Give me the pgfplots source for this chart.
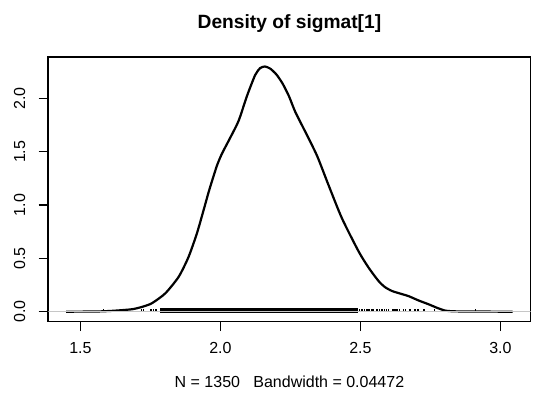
\documentclass[border=0pt]{standalone}
\usepackage{fontspec}
\setmainfont{Liberation Sans}
\usepackage{pgfplots}
\pgfplotsset{compat=1.18}
\begin{document}
\begin{tikzpicture}
\useasboundingbox (-48.3pt,-72.5pt) rectangle (486.7pt,321.5pt);
\clip (-48.3pt,-72.5pt) rectangle (486.7pt,321.5pt);
\begin{axis}[
  at={(0pt,0pt)}, anchor=south west,
  scale only axis, width=482.3pt, height=264.8pt,
  xmin=1.3852, xmax=3.1078, ymin=-0.092, ymax=2.392,
  axis line style={line width=1.7pt},
  xtick={1.5,2,2.5,3}, ytick={0,0.5,1,1.5,2},
  xtick pos=left, ytick pos=left,
  tick align=outside, major tick length=9.6pt,
  tick style={line width=1.2pt, black},
  /pgf/number format/fixed, /pgf/number format/fixed zerofill,
  /pgf/number format/precision=1, /pgf/number format/assume math mode=true,
  tick label style={font=\fontsize{16}{19}\selectfont},
  xticklabel style={yshift=-8pt},
  yticklabel style={xshift=-10pt, rotate=90, anchor=south},
  title={Density of sigmat[1]},
  title style={font=\bfseries\fontsize{19.2}{23}\selectfont, at={(axis description cs:0.5,1)}, anchor=center, yshift=27pt},
  xlabel={N = 1350\ \ \ Bandwidth = 0.04472},
  xlabel style={font=\fontsize{16}{19}\selectfont, at={(axis description cs:0.5,0)}, anchor=center, yshift=-60.2pt},
]
\addplot[black, line width=2.2pt, smooth, tension=0.4] coordinates {
(1.449,0) (1.50,0.0008) (1.55,0.0015) (1.583,0.004) (1.62,0.009) (1.684,0.023) (1.72,0.045) (1.755,0.079) (1.803,0.172) (1.851,0.328) (1.886,0.513) (1.916,0.735) (1.940,0.954) (1.960,1.141) (1.987,1.366) (2.005,1.480) (2.035,1.632) (2.065,1.791) (2.095,2.025) (2.124,2.220) (2.142,2.285) (2.159,2.300) (2.178,2.280) (2.200,2.225) (2.222,2.14) (2.245,2.02) (2.267,1.876) (2.303,1.688) (2.345,1.463) (2.386,1.188) (2.434,0.876) (2.494,0.563) (2.530,0.41) (2.565,0.287) (2.588,0.23) (2.613,0.194) (2.642,0.17) (2.672,0.146) (2.708,0.105) (2.744,0.069) (2.775,0.035) (2.803,0.01) (2.83,0.004) (2.87,0.002) (2.91,0.002) (2.96,0.001) (3.0,0.0003) (3.044,0)
};
\addplot[fill=black, draw=none] coordinates {(1.785,-0.008) (1.785,0.03) (2.491,0.03) (2.491,-0.008)} -- cycle;
\addplot[ycomb, black, line width=1.1pt, mark=none] coordinates {
(1.583,0.023) (1.666,0.023) (1.717,0.023) (1.726,0.023) (1.749,0.023) (1.755,0.023) (1.761,0.023) (1.767,0.023) (1.773,0.023)
(2.497,0.023) (2.503,0.023) (2.509,0.023) (2.515,0.023) (2.521,0.023) (2.527,0.023) (2.533,0.023) (2.539,0.023) (2.545,0.023) (2.556,0.023) (2.562,0.023) (2.568,0.023) (2.574,0.023) (2.580,0.023) (2.586,0.023) (2.592,0.023) (2.600,0.023) (2.613,0.023) (2.620,0.023) (2.627,0.023) (2.634,0.023) (2.641,0.023) (2.655,0.023) (2.661,0.023) (2.677,0.023) (2.695,0.023) (2.703,0.023) (2.709,0.023) (2.724,0.023) (2.730,0.023) (2.764,0.023) (2.910,0.023)
};
\addplot[gray!45, line width=0.8pt] coordinates {(1.3852,0) (3.1078,0)};
\end{axis}
\end{tikzpicture}
\end{document}
